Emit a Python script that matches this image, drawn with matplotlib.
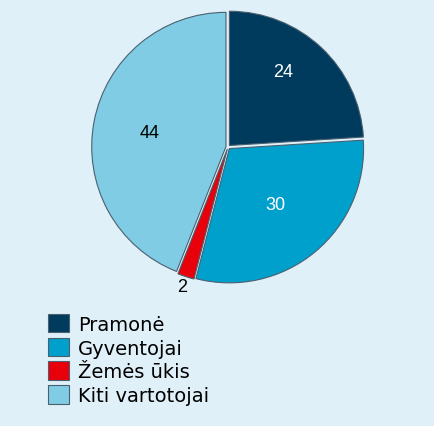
import numpy as np
import matplotlib.pyplot as plt
from matplotlib.patches import Patch

# Duomenys
categories = ['Pramonė', 'Gyventojai', 'Žemės ūkis', 'Kiti vartotojai']
values = [24, 30, 2, 44]
colors = ['#003a5c', '#00a0cc', '#e8000b', '#80cce4']
label_colors = ['white', 'white', 'black', 'black']
label_dist = [0.68, 0.54, 1.08, 0.58]
label_shift = [7, 0, 0, 0]  # laipsniais

bg = '#e0f0f8'

fig = plt.figure(figsize=(4.35, 4.27), dpi=100, facecolor=bg)
ax = fig.add_axes([91 / 435, 1 - 285 / 427, 274 / 435, 274 / 427])
ax.set_facecolor(bg)

wedges, _ = ax.pie(values, colors=colors, startangle=90, counterclock=False,
                   explode=[0.015] * len(values), radius=0.98,
                   wedgeprops=dict(edgecolor='#4a6070', linewidth=0.8))
ax.set_aspect('equal')
ax.set_xlim(-1, 1)
ax.set_ylim(-1, 1)

# Skaičiai ant sektorių
for w, v, c, d, s in zip(wedges, values, label_colors, label_dist, label_shift):
    ang = np.deg2rad((w.theta1 + w.theta2) / 2 + s)
    cx, cy = w.center
    ax.text(cx + d * w.r * np.cos(ang), cy + d * w.r * np.sin(ang), str(v),
            ha='center', va='center', color=c, fontsize=13,
            family='Liberation Sans')

handles = [Patch(facecolor=c, edgecolor='#4a6070', linewidth=0.8) for c in colors]
fig.legend(handles, categories, loc='upper left', bbox_to_anchor=(40 / 435, 1 - 307 / 427),
           frameon=False, fontsize=14, handlelength=1.1, handleheight=1.1,
           handletextpad=0.45, labelspacing=0.2, borderaxespad=0)

fig.savefig('out.png', dpi=100, facecolor=bg)
